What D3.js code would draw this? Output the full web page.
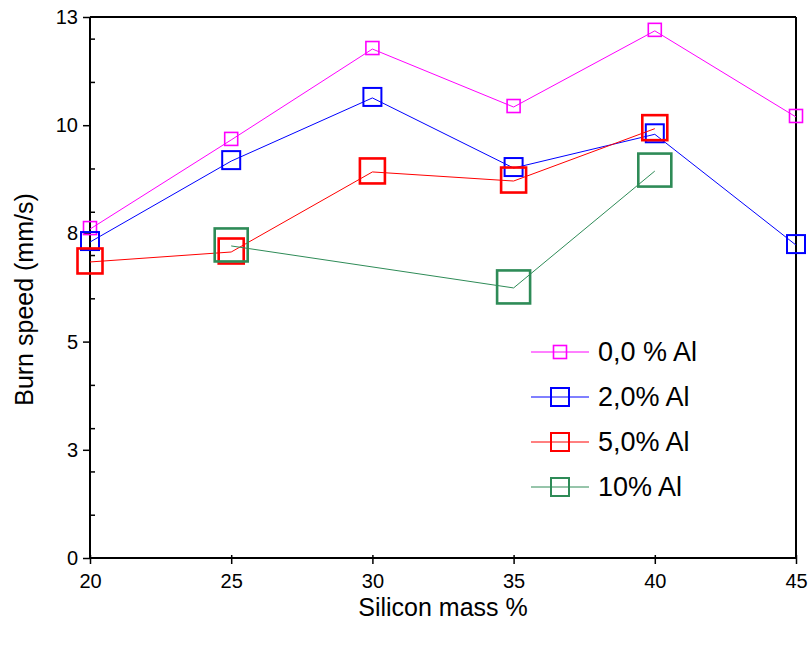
<!DOCTYPE html>
<html>
<head>
<meta charset="utf-8">
<script src="https://cdn.jsdelivr.net/npm/d3@7"></script>
<style>
  html, body { margin: 0; padding: 0; background: #fff; }
  text { font-family: Arial, "Liberation Sans", sans-serif; }
</style>
</head>
<body>
<svg id="chart" width="812" height="648"></svg>
<script>
// ---- data ----
const siliconMass = [20, 25, 30, 35, 40, 45];
const seriesNames = ["0,0 % Al", "2,0% Al", "5,0% Al", "10% Al"];
const al00 = [7.60, 9.66, 11.76, 10.42, 12.18, 10.19];
const al20 = [7.30, 9.17, 10.63, 9.01, 9.79, 7.23];
const al50 = [6.84, 7.07, 8.92, 8.71, 9.92, null];
const al10 = [null, 7.21, null, 6.24, 8.94, null];
const xTickValues = [20, 25, 30, 35, 40, 45];
const xTickLabels = ["20", "25", "30", "35", "40", "45"];
const yTickValues = [0, 2.5, 5, 7.5, 10, 12.5];
const yTickLabels = ["0", "3", "5", "8", "10", "13"];
const yMinorTicks = [1, 2, 3, 4, 6, 7, 8, 9, 11, 12];
const xTitle = "Silicon mass %";
const yTitle = "Burn speed (mm/s)";

// ---- styles ----
const colors = ["#ff00ff", "#0000ff", "#ff0000", "#2e8b57"];
const markerSize = [13, 18, 25, 33];
const markerStroke = [1.6, 2, 2.6, 2.6];
const legendMarkerSize = [13, 18, 18, 18];

const svg = d3.select("#chart");
const pL = 90, pR = 796, pT = 17, pB = 558;

const x = d3.scaleLinear().domain([20, 45]).range([pL, pR]);
const y = d3.scaleLinear().domain([0, 12.5]).range([pB, pT]);

const allSeries = [al00, al20, al50, al10];

// frame (top & right)
svg.append("line").attr("x1", pL).attr("x2", pR).attr("y1", pT).attr("y2", pT)
  .attr("stroke", "#000").attr("stroke-width", 2);
svg.append("line").attr("x1", pR).attr("x2", pR).attr("y1", pT).attr("y2", pB)
  .attr("stroke", "#000").attr("stroke-width", 2);

// y axis major (outward)
const yAxis = d3.axisLeft(y).tickValues(yTickValues).tickSize(7).tickPadding(5)
  .tickFormat((d, i) => yTickLabels[i]);
const gy = svg.append("g").attr("transform", `translate(${pL},0)`).call(yAxis);
// y minor (inward)
const yMinor = d3.axisRight(y).tickValues(yMinorTicks).tickSize(5).tickFormat("");
const gym = svg.append("g").attr("transform", `translate(${pL},0)`).call(yMinor);
gym.select(".domain").remove();

// x axis
const xAxis = d3.axisBottom(x).tickValues(xTickValues).tickSize(6).tickPadding(10)
  .tickFormat((d, i) => xTickLabels[i]);
const gx = svg.append("g").attr("transform", `translate(0,${pB})`).call(xAxis);
gx.selectAll(".tick line").attr("y1", -3);

[gy, gx, gym].forEach(g => {
  g.attr("font-size", null).attr("font-family", null);
  g.selectAll(".domain").attr("stroke", "#000").attr("stroke-width", 2);
  g.selectAll(".tick line").attr("stroke", "#000").attr("stroke-width", 1.5);
  g.selectAll(".tick text").attr("fill", "#000").attr("font-size", 20).style("font-size", "20px");
});
gy.select(".domain").attr("d", `M0,${pB}V${pT}`);
gx.select(".domain").attr("d", `M${pL},0H${pR}`);

// axis titles
svg.append("text").attr("x", (pL + pR) / 2).attr("y", 616)
  .attr("text-anchor", "middle").style("font-size", "25px").text(xTitle);
svg.append("text").attr("transform", `translate(33,${(pT + pB) / 2 + 12}) rotate(-90)`)
  .attr("text-anchor", "middle").style("font-size", "25px").text(yTitle);

// series
const line = d3.line()
  .defined(d => d.v !== null)
  .x(d => x(d.x)).y(d => y(d.v));

allSeries.forEach((vals, si) => {
  const pts = siliconMass.map((m, i) => ({ x: m, v: vals[i] }));
  const valid = pts.filter(p => p.v !== null);
  svg.append("path").datum(valid).attr("d", line)
    .attr("fill", "none").attr("stroke", colors[si]).attr("stroke-width", 1);
  const s = markerSize[si];
  svg.append("g").selectAll("rect").data(valid).join("rect")
    .attr("x", d => x(d.x) - s / 2).attr("y", d => y(d.v) - s / 2 - 1)
    .attr("width", s).attr("height", s)
    .attr("fill", "none").attr("stroke", colors[si]).attr("stroke-width", markerStroke[si]);
});

// legend
const legY = [352, 397, 442, 487];
seriesNames.forEach((name, i) => {
  const g = svg.append("g").attr("transform", `translate(0,${legY[i]})`);
  g.append("line").attr("x1", 531).attr("x2", 589).attr("y1", 0).attr("y2", 0)
    .attr("stroke", colors[i]).attr("stroke-width", 1);
  const s = legendMarkerSize[i];
  g.append("rect").attr("x", 560 - s / 2).attr("y", -s / 2).attr("width", s).attr("height", s)
    .attr("fill", "none").attr("stroke", colors[i]).attr("stroke-width", i === 0 ? 1.6 : 2);
  g.append("text").attr("x", 598).attr("y", 9).style("font-size", "27px").text(name);
});
</script>
</body>
</html>
